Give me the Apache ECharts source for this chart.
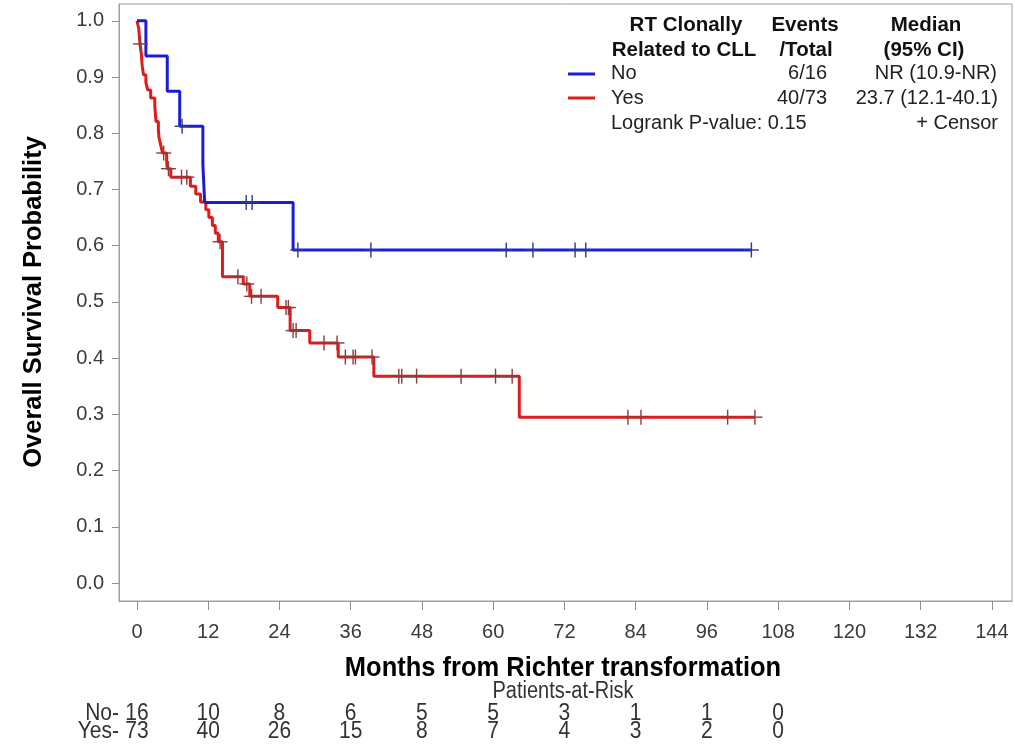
<!DOCTYPE html>
<html>
<head>
<meta charset="utf-8">
<script src="https://cdn.jsdelivr.net/npm/echarts@6/dist/echarts.min.js"></script>
<style>
  html, body { margin: 0; padding: 0; background: #fff; }
  #chart { width: 1015px; height: 745px; }
</style>
</head>
<body>
<div id="chart"></div>
<script>
// Kaplan-Meier overall survival by RT clonal relation to CLL

// Step points: time (months) where the curve drops, survival after the drop
const noTimes = [0, 1.5, 5.1, 7.2, 11.1, 11.4, 26.3, 103.5];
const noSurv  = [1.0, 0.9375, 0.875, 0.8125, 0.7448, 0.6771, 0.5924, 0.5924];
const noCensorTimes = [7.6, 18.4, 19.4, 27.1, 39.4, 62.2, 66.7, 73.8, 75.6, 103.5];

const yesTimes = [0, 0.3, 0.4, 0.5, 0.7, 0.8, 0.9, 1.1, 1.5, 1.8, 2.3, 3.0, 3.1, 3.2, 3.6, 3.7, 4.0,
  4.3, 5.0, 5.1, 5.7, 9.0, 9.9, 10.7, 11.6, 12.1, 12.7, 13.2, 13.7, 14.4, 17.9, 19.0, 23.7, 25.8,
  29.1, 33.9, 39.9, 64.4, 104.1];
const yesSurv = [1.0, 0.986, 0.973, 0.959, 0.945, 0.931, 0.918, 0.904, 0.890, 0.877, 0.863, 0.849,
  0.835, 0.821, 0.807, 0.793, 0.779, 0.765, 0.751, 0.737, 0.722, 0.706, 0.692, 0.678, 0.664, 0.650,
  0.636, 0.622, 0.607, 0.545, 0.532, 0.510, 0.490, 0.449, 0.427, 0.402, 0.368, 0.295, 0.295];
const yesCensorTimes = [0.6, 4.5, 5.3, 7.5, 8.4, 14.0, 17.0, 18.5, 19.3, 20.9, 25.1, 25.5, 26.3, 26.8,
  31.5, 33.7, 35.1, 36.4, 36.8, 39.6, 44.1, 44.6, 47.1, 54.6, 60.4, 63.2, 82.7, 84.9, 99.5, 104.1];

// Patients-at-risk table
const riskTimes = [0, 12, 24, 36, 48, 60, 72, 84, 96, 108];
const riskNo  = [16, 10, 8, 6, 5, 5, 3, 1, 1, 0];
const riskYes = [73, 40, 26, 15, 8, 7, 4, 3, 2, 0];

// Axis ticks
const xTicks = [0, 12, 24, 36, 48, 60, 72, 84, 96, 108, 120, 132, 144];
const yTicks = [0, 0.1, 0.2, 0.3, 0.4, 0.5, 0.6, 0.7, 0.8, 0.9, 1.0];

const BLUE = '#1c1cd6';
const RED = '#e01b1b';
const FONT = "'Liberation Sans', Arial, sans-serif";

function pairs(ts, vs) { return ts.map((t, i) => [t, vs[i]]); }
function survAt(ts, vs, t) {
  let s = vs[0];
  for (let i = 0; i < ts.length; i++) if (ts[i] <= t) s = vs[i];
  return s;
}
function censorData(ct, ts, vs) { return ct.map(t => [t, survAt(ts, vs, t)]); }

function plusMark(color) {
  return function (params, api) {
    const p = api.coord([api.value(0), api.value(1)]);
    const h = 7.5;
    const st = { stroke: color, lineWidth: 1.4 };
    return {
      type: 'group',
      children: [
        { type: 'line', shape: { x1: p[0] - h, y1: p[1], x2: p[0] + h, y2: p[1] }, style: st },
        { type: 'line', shape: { x1: p[0], y1: p[1] - h, x2: p[0], y2: p[1] + h }, style: st }
      ]
    };
  };
}

const chart = echarts.init(document.getElementById('chart'), null, { renderer: 'canvas' });

chart.setOption({
  animation: false,
  backgroundColor: '#fff',
  grid: { left: 119, right: 3, top: 4, bottom: 144, show: true, borderColor: '#a0a0a0', borderWidth: 1 },
  xAxis: {
    type: 'value', min: -3.03, max: 147.4,
    axisLine: { show: true, onZero: false, lineStyle: { color: '#a0a0a0' } },
    axisTick: { show: true, length: 9, customValues: xTicks, lineStyle: { color: '#909090' } },
    axisLabel: { customValues: xTicks, margin: 21, fontSize: 20, color: '#3a3a3a', fontFamily: FONT },
    splitLine: { show: false }
  },
  yAxis: {
    type: 'value', min: -0.032, max: 1.03,
    axisLine: { show: true, onZero: false, lineStyle: { color: '#a0a0a0' } },
    axisTick: { show: true, length: 7, customValues: yTicks, lineStyle: { color: '#909090' } },
    axisLabel: { customValues: yTicks, margin: 15, fontSize: 20, color: '#3a3a3a', fontFamily: FONT,
      formatter: v => v.toFixed(1) },
    splitLine: { show: false }
  },
  series: [
    { name: 'No', type: 'line', step: 'end', data: pairs(noTimes, noSurv), showSymbol: false,
      lineStyle: { color: BLUE, width: 3 }, z: 3 },
    { name: 'Yes', type: 'line', step: 'end', data: pairs(yesTimes, yesSurv), showSymbol: false,
      lineStyle: { color: RED, width: 3 }, z: 2 },
    { name: 'No censor', type: 'custom', renderItem: plusMark('#2c3a8c'),
      data: censorData(noCensorTimes, noTimes, noSurv), z: 5 },
    { name: 'Yes censor', type: 'custom', renderItem: plusMark('#8e3b3b'),
      data: censorData(yesCensorTimes, yesTimes, yesSurv), z: 4 }
  ]
});

// Legend block, axis titles and the patients-at-risk table
function txt(id, text, x, y, opts, extra) {
  return Object.assign({
    type: 'text', id: id, x: x, y: y, z: 10,
    style: Object.assign({ text: text, fontFamily: FONT, fontSize: 20, fill: '#222',
      textAlign: 'left', textVerticalAlign: 'middle' }, opts || {})
  }, extra || {});
}
const bold = { fontWeight: 'bold', textAlign: 'center', fontSize: 20.5, fill: '#111' };
const tall = { scaleY: 1.15 };
const graphics = [
  txt('h1a', 'RT Clonally', 686, 25, bold),
  txt('h1b', 'Related to CLL', 684, 50, bold),
  txt('h2a', 'Events', 805, 25, bold),
  txt('h2b', '/Total', 806, 50, bold),
  txt('h3a', 'Median', 926, 25, bold),
  txt('h3b', '(95% CI)', 924, 50, bold),
  { type: 'line', id: 'lgNo', z: 10, shape: { x1: 568, y1: 74, x2: 595, y2: 74 }, style: { stroke: BLUE, lineWidth: 3 } },
  { type: 'line', id: 'lgYes', z: 10, shape: { x1: 568, y1: 98, x2: 595, y2: 98 }, style: { stroke: RED, lineWidth: 3 } },
  txt('rNo', 'No', 611, 73),
  txt('rNoE', '6/16', 827, 73, { textAlign: 'right' }),
  txt('rNoM', 'NR (10.9-NR)', 997, 73, { textAlign: 'right' }),
  txt('rYes', 'Yes', 611, 98),
  txt('rYesE', '40/73', 827, 98, { textAlign: 'right' }),
  txt('rYesM', '23.7 (12.1-40.1)', 998, 98, { textAlign: 'right' }),
  txt('lr', 'Logrank P-value: 0.15', 611, 123),
  txt('cens', '+ Censor', 998, 123, { textAlign: 'right' }),
  txt('ytitle', 'Overall Survival Probability', 34, 302,
    { fontWeight: 'bold', fontSize: 25.5, fill: '#000', textAlign: 'center' }, { rotation: Math.PI / 2 }),
  txt('xtitle', 'Months from Richter transformation', 563, 668,
    { fontWeight: 'bold', fontSize: 25.5, fill: '#000', textAlign: 'center' }, { scaleY: 1.1 }),
  txt('par', 'Patients-at-Risk', 563, 692, { fontSize: 20, fill: '#333', textAlign: 'center' }, tall),
  txt('lblNo', 'No-', 119, 713, { fontSize: 21, fill: '#333', textAlign: 'right' }, tall),
  txt('lblYes', 'Yes-', 119, 731, { fontSize: 21, fill: '#333', textAlign: 'right' }, tall)
];

riskTimes.forEach((t, i) => {
  const px = chart.convertToPixel({ xAxisIndex: 0 }, t);
  graphics.push(txt('rn' + i, String(riskNo[i]), px, 713, { fontSize: 21, fill: '#333', textAlign: 'center' }, tall));
  graphics.push(txt('ry' + i, String(riskYes[i]), px, 731, { fontSize: 21, fill: '#333', textAlign: 'center' }, tall));
});

chart.setOption({ graphic: graphics });
</script>
</body>
</html>
